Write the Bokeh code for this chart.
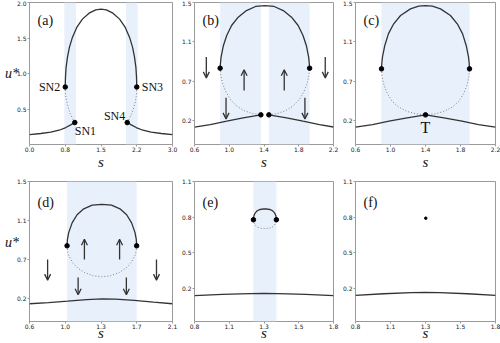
from bokeh.plotting import figure
from bokeh.models import Range1d, FixedTicker, Label, Arrow, OpenHead, ColumnDataSource, BoxAnnotation
from bokeh.layouts import column, row
from bokeh.embed import file_html
from bokeh.resources import INLINE

# ---------------- data ----------------
# panel (a)
a_xticks = [0.0, 0.75, 1.5, 2.25, 3.0]
a_xlabels = ["0.0", "0.8", "1.5", "2.2", "3.0"]
a_yticks = [0.5, 1.0, 1.5, 2.0]
a_ylabels = ["0.5", "1.0", "1.5", "2.0"]
a_upper_s = [0.75, 0.752, 0.756, 0.768, 0.796, 0.837, 0.90, 0.991, 1.11, 1.249, 1.389, 1.5,
             1.611, 1.751, 1.89, 2.009, 2.10, 2.163, 2.204, 2.232, 2.244, 2.248, 2.25]
a_upper_u = [0.81, 0.88, 0.96, 1.087, 1.227, 1.368, 1.508, 1.649, 1.766, 1.85, 1.897, 1.906,
             1.897, 1.85, 1.766, 1.649, 1.508, 1.368, 1.227, 1.087, 0.96, 0.88, 0.81]
a_mid_left_s = [0.75, 0.754, 0.775, 0.81, 0.858, 0.907, 0.95]
a_mid_left_u = [0.81, 0.712, 0.618, 0.525, 0.431, 0.361, 0.309]
a_mid_right_s = [2.05, 2.093, 2.142, 2.19, 2.225, 2.246, 2.25]
a_mid_right_u = [0.309, 0.361, 0.431, 0.525, 0.618, 0.712, 0.81]
a_low_left_s = [0.0, 0.237, 0.447, 0.621, 0.761, 0.865, 0.95]
a_low_left_u = [0.14, 0.155, 0.173, 0.201, 0.239, 0.276, 0.309]
a_low_right_s = [2.05, 2.135, 2.239, 2.379, 2.553, 2.763, 3.0]
a_low_right_u = [0.309, 0.276, 0.239, 0.201, 0.173, 0.155, 0.14]
a_sn_names = ["SN1", "SN2", "SN3", "SN4"]
a_sn_s = [0.95, 0.75, 2.25, 2.05]
a_sn_u = [0.309, 0.81, 0.81, 0.309]
a_band_lo = [0.73, 2.025]
a_band_hi = [0.975, 2.27]

# panels (b), (c), (d) share the y ticks
bcd_yticks = [0.25, 0.6667, 1.0833, 1.5]
bcd_ylabels = ["0.2", "0.7", "1.1", "1.5"]
bc_xticks = [0.6, 1.0, 1.4, 1.8, 2.2]
bc_xlabels = ["0.6", "1.0", "1.4", "1.8", "2.2"]

# panel (b)
b_upper_s = [0.895, 0.899, 0.906, 0.933, 0.971, 1.027, 1.103, 1.198, 1.303, 1.41,
             1.517, 1.622, 1.717, 1.793, 1.849, 1.887, 1.914, 1.921, 1.925]
b_upper_u = [0.806, 0.86, 0.923, 1.046, 1.151, 1.257, 1.345, 1.415, 1.458, 1.468,
             1.458, 1.415, 1.345, 1.257, 1.151, 1.046, 0.923, 0.86, 0.806]
b_mid_left_s = [0.895, 0.903, 0.925, 0.963, 1.016, 1.084, 1.167, 1.266, 1.364]
b_mid_left_u = [0.806, 0.729, 0.641, 0.553, 0.472, 0.408, 0.359, 0.327, 0.313]
b_mid_right_s = [1.456, 1.554, 1.653, 1.736, 1.804, 1.857, 1.895, 1.917, 1.925]
b_mid_right_u = [0.313, 0.327, 0.359, 0.408, 0.472, 0.553, 0.641, 0.729, 0.806]
b_low_left_s = [0.6, 0.782, 0.971, 1.16, 1.364]
b_low_left_u = [0.183, 0.211, 0.246, 0.282, 0.313]
b_low_right_s = [1.456, 1.66, 1.849, 2.038, 2.2]
b_low_right_u = [0.313, 0.282, 0.246, 0.211, 0.185]
b_dot_s = [0.895, 1.925, 1.364, 1.456]
b_dot_u = [0.806, 0.806, 0.313, 0.313]
b_band_lo = [0.895, 1.456]
b_band_hi = [1.364, 1.925]
b_arrow_s = [0.736, 1.171, 1.633, 2.105, 0.963, 1.871]
b_arrow_from = [0.923, 0.570, 0.570, 0.923, 0.493, 0.493]
b_arrow_to = [0.704, 0.789, 0.789, 0.704, 0.271, 0.271]

# panel (c)
c_upper_s = [0.897, 0.901, 0.908, 0.935, 0.976, 1.032, 1.115, 1.228, 1.322, 1.4,
             1.478, 1.572, 1.685, 1.768, 1.824, 1.865, 1.892, 1.899, 1.903]
c_upper_u = [0.799, 0.86, 0.923, 1.046, 1.169, 1.268, 1.363, 1.433, 1.461, 1.468,
             1.461, 1.433, 1.363, 1.268, 1.169, 1.046, 0.923, 0.86, 0.799]
c_mid_left_s = [0.897, 0.905, 0.927, 0.965, 1.021, 1.096, 1.19, 1.292, 1.4]
c_mid_left_u = [0.799, 0.711, 0.623, 0.535, 0.454, 0.394, 0.349, 0.324, 0.313]
c_mid_right_s = [1.4, 1.508, 1.61, 1.704, 1.779, 1.835, 1.873, 1.895, 1.903]
c_mid_right_u = [0.313, 0.324, 0.349, 0.394, 0.454, 0.535, 0.623, 0.711, 0.799]
c_low_s = [0.6, 0.795, 0.983, 1.19, 1.4, 1.61, 1.817, 2.005, 2.2]
c_low_u = [0.183, 0.211, 0.246, 0.282, 0.313, 0.282, 0.246, 0.211, 0.183]
c_dot_s = [0.897, 1.903, 1.4]
c_dot_u = [0.799, 0.799, 0.313]
c_band_lo = [0.897]
c_band_hi = [1.903]

# panel (d)
d_xticks = [0.6, 0.975, 1.35, 1.725, 2.1]
d_xlabels = ["0.6", "1.0", "1.3", "1.7", "2.1"]
d_upper_s = [0.994, 0.998, 1.011, 1.047, 1.099, 1.169, 1.258, 1.359, 1.46, 1.549,
             1.619, 1.671, 1.707, 1.72, 1.724]
d_upper_u = [0.811, 0.88, 0.952, 1.057, 1.144, 1.207, 1.246, 1.256, 1.246, 1.207,
             1.144, 1.057, 0.952, 0.88, 0.811]
d_mid_s = [0.994, 1.001, 1.012, 1.049, 1.104, 1.177, 1.268, 1.359, 1.45, 1.541,
           1.614, 1.669, 1.706, 1.717, 1.724]
d_mid_u = [0.811, 0.744, 0.707, 0.636, 0.574, 0.524, 0.49, 0.48, 0.49, 0.524,
           0.574, 0.636, 0.707, 0.744, 0.811]
d_low_s = [0.6, 0.8, 1.0, 1.2, 1.36, 1.5, 1.7, 1.9, 2.1]
d_low_u = [0.19, 0.203, 0.218, 0.235, 0.243, 0.239, 0.226, 0.207, 0.19]
d_dot_s = [0.994, 1.724]
d_dot_u = [0.811, 0.811]
d_band_lo = [0.994]
d_band_hi = [1.724]
d_arrow_s = [0.79, 1.176, 1.545, 1.932, 1.11, 1.616]
d_arrow_from = [0.664, 0.664, 0.664, 0.664, 0.472, 0.472]
d_arrow_to = [0.443, 0.881, 0.881, 0.443, 0.287, 0.287]

# panels (e), (f)
ef_xticks = [0.8, 1.05, 1.3, 1.55, 1.8]
ef_xlabels = ["0.8", "1.1", "1.3", "1.5", "1.8"]
ef_yticks = [0.2, 0.5, 0.8, 1.1]
ef_ylabels = ["0.2", "0.5", "0.8", "1.1"]
e_upper_s = [1.224, 1.227, 1.236, 1.25, 1.27, 1.29, 1.3065, 1.323, 1.343, 1.363, 1.377, 1.386, 1.389]
e_upper_u = [0.779, 0.81, 0.835, 0.853, 0.865, 0.869, 0.870, 0.869, 0.865, 0.853, 0.835, 0.81, 0.779]
e_mid_s = [1.224, 1.228, 1.238, 1.255, 1.28, 1.3065, 1.333, 1.358, 1.375, 1.385, 1.389]
e_mid_u = [0.779, 0.755, 0.733, 0.716, 0.707, 0.705, 0.707, 0.716, 0.733, 0.755, 0.779]
e_low_s = [0.8, 1.0, 1.2, 1.3, 1.4, 1.6, 1.8]
e_low_u = [0.142, 0.152, 0.159, 0.160, 0.159, 0.152, 0.142]
e_dot_s = [1.224, 1.389]
e_dot_u = [0.779, 0.779]
e_band_lo = [1.224]
e_band_hi = [1.389]
f_low_s = [0.8, 1.0, 1.2, 1.3, 1.4, 1.6, 1.8]
f_low_u = [0.145, 0.158, 0.167, 0.17, 0.167, 0.158, 0.145]
f_point_s = [1.302]
f_point_u = [0.792]

# ---------------- styling ----------------
LINE = "#333333"
DOT_LINE = "#808080"
BAND = "#e8f0fc"
SPINE = "#9a9a9a"
SERIF = "Liberation Serif"

col_w = [178, 161, 161]
col_left = [29, 14, 14]
col_right = [6, 6, 5]
row_h = [178, 165]
row_top = [2, 3]
row_bot = [34, 19]
row_s_standoff = [-1, -7]
row_u_text = ["u*", "u*\n "]


def panel(ci, ri, xlim, ylim, xt, xl, yt, yl, letter, show_u):
    p = figure(width=col_w[ci], height=row_h[ri], title=None,
               x_range=Range1d(*xlim), y_range=Range1d(*ylim),
               toolbar_location=None, output_backend="svg",
               min_border_left=col_left[ci], min_border_right=col_right[ci],
               min_border_top=row_top[ri], min_border_bottom=row_bot[ri])
    p.xgrid.visible = False
    p.ygrid.visible = False
    p.outline_line_color = SPINE
    p.outline_line_width = 1
    for ax, t, l, so in ((p.xaxis[0], xt, xl, 0), (p.yaxis[0], yt, yl, 1)):
        ax.ticker = FixedTicker(ticks=t)
        ax.major_label_overrides = {v: s for v, s in zip(t, l)}
        ax.axis_line_color = None
        ax.major_tick_line_color = SPINE
        ax.major_tick_in = 0
        ax.major_tick_out = 2
        ax.minor_tick_out = 0
        ax.minor_tick_in = 0
        ax.major_label_standoff = so
        ax.major_label_text_font = "DejaVu Sans"
        ax.major_label_text_font_size = "6px"
        ax.major_label_text_color = "#222222"
        ax.axis_label_text_font = SERIF
        ax.axis_label_text_font_style = "italic"
        ax.axis_label_text_color = "#111111"
    xa = p.xaxis[0]
    xa.axis_label = "s"
    xa.axis_label_text_font_size = "15px"
    xa.axis_label_standoff = row_s_standoff[ri]
    if show_u:
        ya = p.yaxis[0]
        ya.axis_label = row_u_text[ri]
        ya.axis_label_text_font_size = "14px"
        ya.axis_label_orientation = "horizontal"
        ya.axis_label_standoff = -5
    p.add_layout(Label(x=xlim[0], y=ylim[1], x_offset=8, y_offset=-18 if ri == 0 else -21,
                       text=letter, text_font=SERIF, text_font_size="14px",
                       text_baseline="middle", text_align="left", text_color="#111111"))
    return p


def bands(p, lo, hi):
    for l, h in zip(lo, hi):
        p.add_layout(BoxAnnotation(left=l, right=h, fill_color=BAND, fill_alpha=1.0,
                                   line_color=None, level="underlay"))


def solid(p, s, u):
    p.line(s, u, line_color=LINE, line_width=1.3)


def dotted(p, s, u):
    p.line(s, u, line_color=DOT_LINE, line_width=1.0, line_dash="1 2")


def dots(p, s, u, size=4.5):
    p.scatter(s, u, size=size, fill_color="black", line_color="black")


def arrows(p, s, u0, u1):
    src = ColumnDataSource(dict(x0=s, y0=u0, x1=s, y1=u1))
    p.add_layout(Arrow(x_start="x0", y_start="y0", x_end="x1", y_end="y1", source=src,
                       line_color=LINE, line_width=1.3,
                       end=OpenHead(size=6, line_color=LINE, line_width=1.3)))


# (a)
pa = panel(0, 0, (0, 3), (0, 2), a_xticks, a_xlabels, a_yticks, a_ylabels, "(a)", True)
bands(pa, a_band_lo, a_band_hi)
solid(pa, a_upper_s, a_upper_u)
dotted(pa, a_mid_left_s, a_mid_left_u)
dotted(pa, a_mid_right_s, a_mid_right_u)
solid(pa, a_low_left_s, a_low_left_u)
solid(pa, a_low_right_s, a_low_right_u)
dots(pa, a_sn_s, a_sn_u)
sn_style = dict(text_font=SERIF, text_font_size="12px", text_baseline="middle", text_color="#111111")
pa.add_layout(Label(x=a_sn_s[0], y=a_sn_u[0], x_offset=0, y_offset=-8, text=a_sn_names[0], text_align="left", **sn_style))
pa.add_layout(Label(x=a_sn_s[1], y=a_sn_u[1], x_offset=-5, y_offset=0, text=a_sn_names[1], text_align="right", **sn_style))
pa.add_layout(Label(x=a_sn_s[2], y=a_sn_u[2], x_offset=5, y_offset=0, text=a_sn_names[2], text_align="left", **sn_style))
pa.add_layout(Label(x=a_sn_s[3], y=a_sn_u[3], x_offset=-2, y_offset=7, text=a_sn_names[3], text_align="right", **sn_style))

# (b)
pb = panel(1, 0, (0.6, 2.2), (0, 1.5), bc_xticks, bc_xlabels, bcd_yticks, bcd_ylabels, "(b)", False)
bands(pb, b_band_lo, b_band_hi)
solid(pb, b_upper_s, b_upper_u)
dotted(pb, b_mid_left_s, b_mid_left_u)
dotted(pb, b_mid_right_s, b_mid_right_u)
solid(pb, b_low_left_s, b_low_left_u)
solid(pb, b_low_right_s, b_low_right_u)
dots(pb, b_dot_s, b_dot_u)
arrows(pb, b_arrow_s, b_arrow_from, b_arrow_to)

# (c)
pc = panel(2, 0, (0.6, 2.2), (0, 1.5), bc_xticks, bc_xlabels, bcd_yticks, bcd_ylabels, "(c)", False)
bands(pc, c_band_lo, c_band_hi)
solid(pc, c_upper_s, c_upper_u)
dotted(pc, c_mid_left_s, c_mid_left_u)
dotted(pc, c_mid_right_s, c_mid_right_u)
solid(pc, c_low_s, c_low_u)
dots(pc, c_dot_s, c_dot_u)
pc.add_layout(Label(x=c_dot_s[2], y=c_dot_u[2], y_offset=-13, text="T", text_align="center",
                    text_font=SERIF, text_font_size="16px", text_baseline="middle", text_color="#111111"))

# (d)
pd_ = panel(0, 1, (0.6, 2.1), (0, 1.5), d_xticks, d_xlabels, bcd_yticks, bcd_ylabels, "(d)", True)
bands(pd_, d_band_lo, d_band_hi)
solid(pd_, d_upper_s, d_upper_u)
dotted(pd_, d_mid_s, d_mid_u)
solid(pd_, d_low_s, d_low_u)
dots(pd_, d_dot_s, d_dot_u)
arrows(pd_, d_arrow_s, d_arrow_from, d_arrow_to)

# (e)
pe = panel(1, 1, (0.8, 1.8), (-0.075, 1.1), ef_xticks, ef_xlabels, ef_yticks, ef_ylabels, "(e)", False)
bands(pe, e_band_lo, e_band_hi)
solid(pe, e_upper_s, e_upper_u)
dotted(pe, e_mid_s, e_mid_u)
solid(pe, e_low_s, e_low_u)
dots(pe, e_dot_s, e_dot_u)

# (f)
pf = panel(2, 1, (0.8, 1.8), (-0.075, 1.1), ef_xticks, ef_xlabels, ef_yticks, ef_ylabels, "(f)", False)
solid(pf, f_low_s, f_low_u)
dots(pf, f_point_s, f_point_u, size=2.5)

layout = column(row(pa, pb, pc), row(pd_, pe, pf))
open("out.html", "w").write(file_html(layout, INLINE))
